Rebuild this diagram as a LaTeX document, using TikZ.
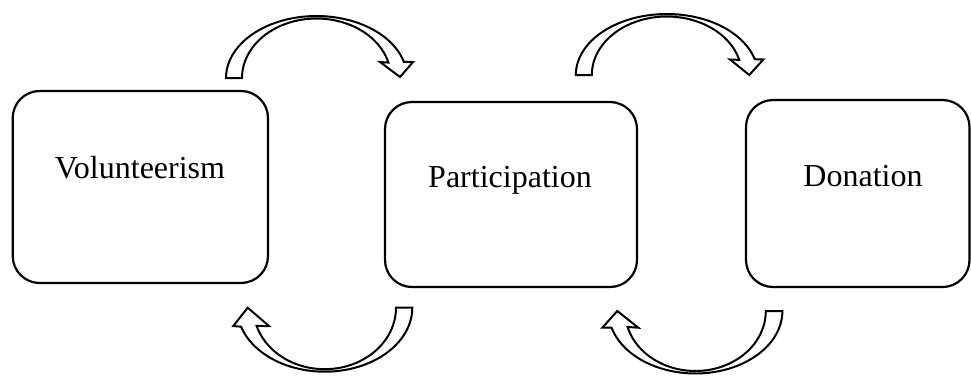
\documentclass[tikz,border=0pt]{standalone}
\usepackage{fontspec}
\setmainfont{Liberation Serif}
\begin{document}
\begin{tikzpicture}[x=1pt,y=-1pt,
  box/.style={draw=black, line width=2.2pt, rounded corners=27pt, fill=white},
  lbl/.style={font=\fontsize{32}{38}\selectfont, inner sep=0pt, anchor=base},
  blockarrow/.style={draw=black, line width=2pt, fill=white, line join=miter}]
\useasboundingbox (0,0) rectangle (971,375);
% boxes
\draw[box] (12.7,91) rectangle (268,283);
\draw[box] (385,102) rectangle (637,287);
\draw[box] (746,100) rectangle (969.5,287);
\node[lbl] (volt) at (140,178) {Volunteerism};
\node[lbl] (part) at (510,187) {Participation};
\node[lbl] (dont) at (863,186) {Donation};
% top arrow 1
\draw[blockarrow] (226,78)
  -- plot[domain=180:345, samples=50] ({316.5+90.5*cos(\x)}, {78+62*sin(\x)})
  -- (413,62) -- (400,77) -- (380,62)
  -- plot[domain=345:180, samples=50] ({316.5+74.5*cos(\x)}, {78+59.5*sin(\x)})
  -- cycle;
% top arrow 2
\draw[blockarrow] (575.8,75)
  -- plot[domain=180:345, samples=50] ({666.8+91*cos(\x)}, {75+61*sin(\x)})
  -- (763.3,59.5) -- (749.3,75) -- (730,59.5)
  -- plot[domain=345:180, samples=50] ({666.8+75*cos(\x)}, {75+58.5*sin(\x)})
  -- cycle;
% bottom arrow 1
\draw[blockarrow] (412.3,307.7)
  -- plot[domain=0:162.7, samples=50] ({324.7+87.6*cos(\x)}, {307.7+64*sin(\x)})
  -- (233.3,326) -- (247.7,307.7) -- (269,326)
  -- plot[domain=162.7:0, samples=50] ({324.7+71.3*cos(\x)}, {307.7+61.5*sin(\x)})
  -- cycle;
% bottom arrow 2
\draw[blockarrow] (782.4,311)
  -- plot[domain=0:164.6, samples=50] ({695.4+87*cos(\x)}, {311+62.5*sin(\x)})
  -- (602.3,327.7) -- (617.3,311) -- (638.3,327.7)
  -- plot[domain=164.6:0, samples=50] ({695.4+70.4*cos(\x)}, {311+60*sin(\x)})
  -- cycle;
\end{tikzpicture}
\end{document}
